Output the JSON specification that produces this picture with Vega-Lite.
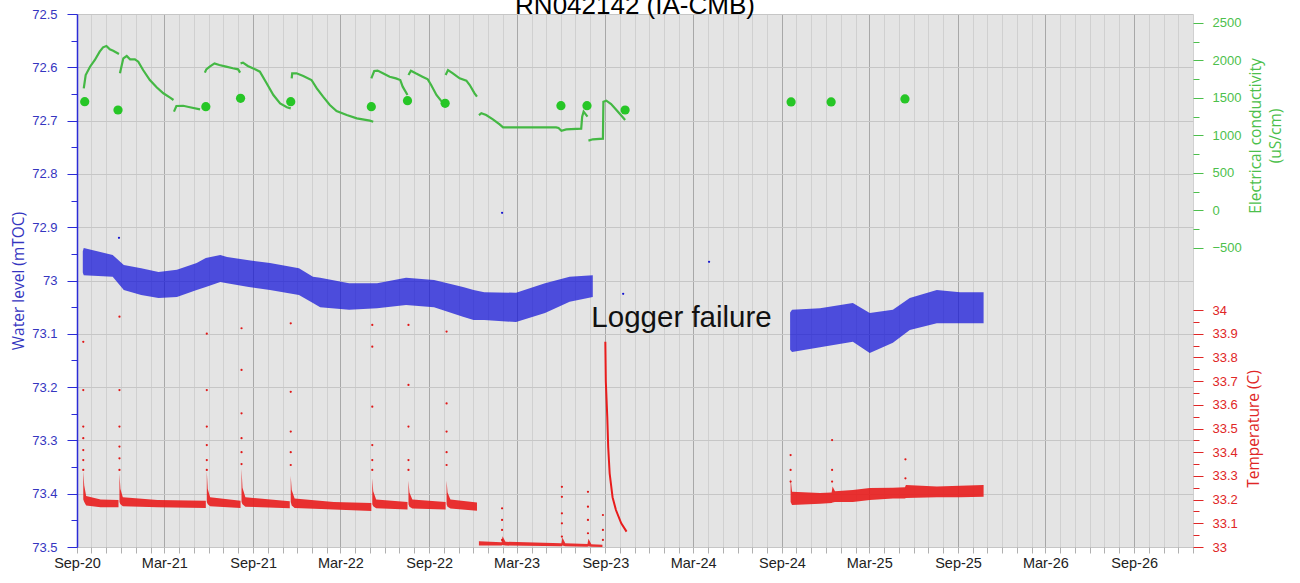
{
  "$schema": "https://vega.github.io/schema/vega-lite/v6.json",
  "width": 1116,
  "height": 533,
  "autosize": {"type": "none"},
  "padding": {"left": 77, "top": 14, "right": 107, "bottom": 36},
  "background": "white",
  "title": {"text": "RN042142 (IA-CMB)", "font": "Liberation Sans", "fontSize": 26, "fontWeight": "normal", "color": "#000000", "anchor": "middle", "offset": -11},
  "config": {"view": {"fill": "#e4e4e4", "stroke": null}},
  "datasets": {
    "wl": [
      {"seg": 1, "d": "2020-09-13", "v": 72.945, "v2": 72.985},
      {"seg": 1, "d": "2020-09-15", "v": 72.939, "v2": 72.99},
      {"seg": 1, "d": "2020-11-14", "v": 72.952, "v2": 72.993},
      {"seg": 1, "d": "2020-12-07", "v": 72.971, "v2": 73.018},
      {"seg": 1, "d": "2021-01-12", "v": 72.977, "v2": 73.027},
      {"seg": 1, "d": "2021-02-17", "v": 72.984, "v2": 73.033},
      {"seg": 1, "d": "2021-03-27", "v": 72.98, "v2": 73.031},
      {"seg": 1, "d": "2021-05-07", "v": 72.967, "v2": 73.018},
      {"seg": 1, "d": "2021-05-26", "v": 72.958, "v2": 73.012},
      {"seg": 1, "d": "2021-06-25", "v": 72.952, "v2": 73.003},
      {"seg": 1, "d": "2021-07-09", "v": 72.956, "v2": 73.005},
      {"seg": 1, "d": "2021-08-23", "v": 72.962, "v2": 73.012},
      {"seg": 1, "d": "2021-10-06", "v": 72.967, "v2": 73.018},
      {"seg": 1, "d": "2021-12-05", "v": 72.977, "v2": 73.027},
      {"seg": 1, "d": "2022-01-03", "v": 72.993, "v2": 73.042},
      {"seg": 1, "d": "2022-01-18", "v": 72.995, "v2": 73.05},
      {"seg": 1, "d": "2022-03-19", "v": 73.005, "v2": 73.055},
      {"seg": 1, "d": "2022-05-16", "v": 73.005, "v2": 73.052},
      {"seg": 1, "d": "2022-07-15", "v": 72.995, "v2": 73.046},
      {"seg": 1, "d": "2022-09-11", "v": 72.999, "v2": 73.05},
      {"seg": 1, "d": "2022-11-10", "v": 73.012, "v2": 73.068},
      {"seg": 1, "d": "2022-12-02", "v": 73.018, "v2": 73.074},
      {"seg": 1, "d": "2022-12-24", "v": 73.022, "v2": 73.074},
      {"seg": 1, "d": "2023-02-28", "v": 73.023, "v2": 73.078},
      {"seg": 1, "d": "2023-04-29", "v": 73.005, "v2": 73.061},
      {"seg": 1, "d": "2023-06-19", "v": 72.993, "v2": 73.04},
      {"seg": 1, "d": "2023-08-06", "v": 72.99, "v2": 73.031},
      {"seg": 2, "d": "2024-09-18", "v": 73.06, "v2": 73.13},
      {"seg": 2, "d": "2024-09-22", "v": 73.055, "v2": 73.134},
      {"seg": 2, "d": "2024-11-19", "v": 73.052, "v2": 73.125},
      {"seg": 2, "d": "2025-01-26", "v": 73.042, "v2": 73.115},
      {"seg": 2, "d": "2025-03-02", "v": 73.061, "v2": 73.136},
      {"seg": 2, "d": "2025-04-19", "v": 73.055, "v2": 73.117},
      {"seg": 2, "d": "2025-05-24", "v": 73.033, "v2": 73.093},
      {"seg": 2, "d": "2025-07-19", "v": 73.018, "v2": 73.08},
      {"seg": 2, "d": "2025-09-05", "v": 73.022, "v2": 73.08},
      {"seg": 2, "d": "2025-10-24", "v": 73.022, "v2": 73.08}
    ],
    "wlpts": [
      {"d": "2020-11-27", "v": 72.92},
      {"d": "2023-01-30", "v": 72.873},
      {"d": "2023-10-08", "v": 73.025},
      {"d": "2024-04-03", "v": 72.965}
    ],
    "tb": [
      {"seg": 1, "d": "2020-09-14", "v": 33.2, "v2": 33.32},
      {"seg": 1, "d": "2020-09-16", "v": 33.19, "v2": 33.26},
      {"seg": 1, "d": "2020-09-20", "v": 33.175, "v2": 33.215},
      {"seg": 1, "d": "2020-10-20", "v": 33.168, "v2": 33.2},
      {"seg": 1, "d": "2020-11-26", "v": 33.168, "v2": 33.198},
      {"seg": 2, "d": "2020-11-28", "v": 33.19, "v2": 33.31},
      {"seg": 2, "d": "2020-11-30", "v": 33.18, "v2": 33.245},
      {"seg": 2, "d": "2020-12-05", "v": 33.172, "v2": 33.21},
      {"seg": 2, "d": "2021-02-15", "v": 33.168, "v2": 33.198},
      {"seg": 2, "d": "2021-05-26", "v": 33.165, "v2": 33.195},
      {"seg": 3, "d": "2021-05-28", "v": 33.19, "v2": 33.32},
      {"seg": 3, "d": "2021-05-30", "v": 33.18, "v2": 33.245},
      {"seg": 3, "d": "2021-06-04", "v": 33.172, "v2": 33.21},
      {"seg": 3, "d": "2021-08-06", "v": 33.165, "v2": 33.195},
      {"seg": 4, "d": "2021-08-08", "v": 33.19, "v2": 33.33},
      {"seg": 4, "d": "2021-08-10", "v": 33.18, "v2": 33.25},
      {"seg": 4, "d": "2021-08-16", "v": 33.17, "v2": 33.21},
      {"seg": 4, "d": "2021-11-16", "v": 33.163, "v2": 33.193},
      {"seg": 5, "d": "2021-11-18", "v": 33.19, "v2": 33.3},
      {"seg": 5, "d": "2021-11-20", "v": 33.175, "v2": 33.24},
      {"seg": 5, "d": "2021-11-26", "v": 33.165, "v2": 33.205},
      {"seg": 5, "d": "2022-02-15", "v": 33.158, "v2": 33.19},
      {"seg": 5, "d": "2022-05-04", "v": 33.152, "v2": 33.186},
      {"seg": 6, "d": "2022-05-06", "v": 33.18, "v2": 33.29},
      {"seg": 6, "d": "2022-05-08", "v": 33.172, "v2": 33.235},
      {"seg": 6, "d": "2022-05-14", "v": 33.163, "v2": 33.2},
      {"seg": 6, "d": "2022-07-18", "v": 33.158, "v2": 33.19},
      {"seg": 7, "d": "2022-07-20", "v": 33.18, "v2": 33.28},
      {"seg": 7, "d": "2022-07-22", "v": 33.17, "v2": 33.23},
      {"seg": 7, "d": "2022-07-28", "v": 33.162, "v2": 33.2},
      {"seg": 7, "d": "2022-10-05", "v": 33.158, "v2": 33.19},
      {"seg": 8, "d": "2022-10-07", "v": 33.18, "v2": 33.28},
      {"seg": 8, "d": "2022-10-09", "v": 33.17, "v2": 33.23},
      {"seg": 8, "d": "2022-10-15", "v": 33.162, "v2": 33.2},
      {"seg": 8, "d": "2022-12-09", "v": 33.153, "v2": 33.188},
      {"seg": 9, "d": "2022-12-13", "v": 33.006, "v2": 33.024},
      {"seg": 9, "d": "2023-01-29", "v": 33.006, "v2": 33.02},
      {"seg": 9, "d": "2023-01-31", "v": 33.008, "v2": 33.045},
      {"seg": 9, "d": "2023-02-06", "v": 33.006, "v2": 33.022},
      {"seg": 9, "d": "2023-06-02", "v": 33.003, "v2": 33.016},
      {"seg": 9, "d": "2023-06-04", "v": 33.006, "v2": 33.04},
      {"seg": 9, "d": "2023-06-10", "v": 33.003, "v2": 33.016},
      {"seg": 9, "d": "2023-07-26", "v": 33.001, "v2": 33.013},
      {"seg": 9, "d": "2023-07-28", "v": 33.003, "v2": 33.035},
      {"seg": 9, "d": "2023-08-03", "v": 33.001, "v2": 33.012},
      {"seg": 9, "d": "2023-08-26", "v": 33.0, "v2": 33.01},
      {"seg": 10, "d": "2024-09-19", "v": 33.19, "v2": 33.29},
      {"seg": 10, "d": "2024-09-22", "v": 33.177, "v2": 33.233},
      {"seg": 10, "d": "2024-11-19", "v": 33.182, "v2": 33.228},
      {"seg": 10, "d": "2024-12-13", "v": 33.186, "v2": 33.23},
      {"seg": 10, "d": "2024-12-15", "v": 33.188, "v2": 33.255},
      {"seg": 10, "d": "2024-12-20", "v": 33.19, "v2": 33.235},
      {"seg": 10, "d": "2025-01-26", "v": 33.19, "v2": 33.24},
      {"seg": 10, "d": "2025-03-02", "v": 33.198, "v2": 33.249},
      {"seg": 10, "d": "2025-04-19", "v": 33.205, "v2": 33.25},
      {"seg": 10, "d": "2025-05-14", "v": 33.205, "v2": 33.252},
      {"seg": 10, "d": "2025-05-16", "v": 33.207, "v2": 33.262},
      {"seg": 10, "d": "2025-07-19", "v": 33.21, "v2": 33.255},
      {"seg": 10, "d": "2025-09-05", "v": 33.21, "v2": 33.258},
      {"seg": 10, "d": "2025-10-24", "v": 33.212, "v2": 33.262}
    ],
    "tc": [
      {"d": "2023-09-01", "v": 33.866},
      {"d": "2023-09-02", "v": 33.7},
      {"d": "2023-09-05", "v": 33.55},
      {"d": "2023-09-07", "v": 33.42},
      {"d": "2023-09-10", "v": 33.31},
      {"d": "2023-09-16", "v": 33.21},
      {"d": "2023-09-23", "v": 33.156},
      {"d": "2023-10-04", "v": 33.1},
      {"d": "2023-10-15", "v": 33.065}
    ],
    "tp": [
      {"d": "2020-09-14", "v": 33.866}, {"d": "2020-09-14", "v": 33.662}, {"d": "2020-09-14", "v": 33.508}, {"d": "2020-09-14", "v": 33.459}, {"d": "2020-09-14", "v": 33.409}, {"d": "2020-09-14", "v": 33.367}, {"d": "2020-09-14", "v": 33.325},
      {"d": "2020-11-28", "v": 33.972}, {"d": "2020-11-28", "v": 33.662}, {"d": "2020-11-28", "v": 33.508}, {"d": "2020-11-28", "v": 33.424}, {"d": "2020-11-28", "v": 33.374}, {"d": "2020-11-28", "v": 33.325},
      {"d": "2021-05-28", "v": 33.9}, {"d": "2021-05-28", "v": 33.662}, {"d": "2021-05-28", "v": 33.508}, {"d": "2021-05-28", "v": 33.43}, {"d": "2021-05-28", "v": 33.367}, {"d": "2021-05-28", "v": 33.325},
      {"d": "2021-08-08", "v": 33.923}, {"d": "2021-08-08", "v": 33.747}, {"d": "2021-08-08", "v": 33.564}, {"d": "2021-08-08", "v": 33.459}, {"d": "2021-08-08", "v": 33.4}, {"d": "2021-08-08", "v": 33.35},
      {"d": "2021-11-18", "v": 33.944}, {"d": "2021-11-18", "v": 33.655}, {"d": "2021-11-18", "v": 33.487}, {"d": "2021-11-18", "v": 33.4}, {"d": "2021-11-18", "v": 33.346},
      {"d": "2022-05-06", "v": 33.937}, {"d": "2022-05-06", "v": 33.845}, {"d": "2022-05-06", "v": 33.592}, {"d": "2022-05-06", "v": 33.43}, {"d": "2022-05-06", "v": 33.367}, {"d": "2022-05-06", "v": 33.325},
      {"d": "2022-07-20", "v": 33.937}, {"d": "2022-07-20", "v": 33.684}, {"d": "2022-07-20", "v": 33.508}, {"d": "2022-07-20", "v": 33.367}, {"d": "2022-07-20", "v": 33.325},
      {"d": "2022-10-07", "v": 33.909}, {"d": "2022-10-07", "v": 33.606}, {"d": "2022-10-07", "v": 33.487}, {"d": "2022-10-07", "v": 33.4}, {"d": "2022-10-07", "v": 33.346},
      {"d": "2023-01-30", "v": 33.163}, {"d": "2023-01-30", "v": 33.114}, {"d": "2023-01-30", "v": 33.072}, {"d": "2023-01-30", "v": 33.03},
      {"d": "2023-06-03", "v": 33.254}, {"d": "2023-06-03", "v": 33.212}, {"d": "2023-06-03", "v": 33.142}, {"d": "2023-06-03", "v": 33.1}, {"d": "2023-06-03", "v": 33.044},
      {"d": "2023-07-27", "v": 33.233}, {"d": "2023-07-27", "v": 33.17}, {"d": "2023-07-27", "v": 33.114}, {"d": "2023-07-27", "v": 33.058},
      {"d": "2023-08-27", "v": 33.135}, {"d": "2023-08-27", "v": 33.072}, {"d": "2023-08-27", "v": 33.03},
      {"d": "2024-09-19", "v": 33.388}, {"d": "2024-09-19", "v": 33.325}, {"d": "2024-09-19", "v": 33.276},
      {"d": "2024-12-14", "v": 33.451}, {"d": "2024-12-14", "v": 33.325}, {"d": "2024-12-14", "v": 33.276},
      {"d": "2025-05-15", "v": 33.37}, {"d": "2025-05-15", "v": 33.29}
    ],
    "ecl": [
      {"s": "A", "d": "2020-09-15", "v": 1629}, {"s": "A", "d": "2020-09-19", "v": 1807}, {"s": "A", "d": "2020-09-28", "v": 1917}, {"s": "A", "d": "2020-10-08", "v": 2007}, {"s": "A", "d": "2020-10-18", "v": 2118}, {"s": "A", "d": "2020-10-25", "v": 2176}, {"s": "A", "d": "2020-11-01", "v": 2193}, {"s": "A", "d": "2020-11-08", "v": 2149}, {"s": "A", "d": "2020-11-15", "v": 2131}, {"s": "A", "d": "2020-11-27", "v": 2087},
      {"s": "B", "d": "2020-11-29", "v": 1829}, {"s": "B", "d": "2020-12-06", "v": 2029}, {"s": "B", "d": "2020-12-13", "v": 2060}, {"s": "B", "d": "2020-12-20", "v": 2016}, {"s": "B", "d": "2020-12-30", "v": 2016}, {"s": "B", "d": "2021-01-06", "v": 1984}, {"s": "B", "d": "2021-01-16", "v": 1873}, {"s": "B", "d": "2021-01-30", "v": 1740}, {"s": "B", "d": "2021-02-13", "v": 1643}, {"s": "B", "d": "2021-02-27", "v": 1563}, {"s": "B", "d": "2021-03-13", "v": 1504}, {"s": "B", "d": "2021-03-20", "v": 1473},
      {"s": "C", "d": "2021-03-21", "v": 1318}, {"s": "C", "d": "2021-03-26", "v": 1393}, {"s": "C", "d": "2021-04-09", "v": 1396}, {"s": "C", "d": "2021-04-23", "v": 1376}, {"s": "C", "d": "2021-05-14", "v": 1349},
      {"s": "D", "d": "2021-05-24", "v": 1838}, {"s": "D", "d": "2021-05-27", "v": 1882}, {"s": "D", "d": "2021-06-03", "v": 1918}, {"s": "D", "d": "2021-06-13", "v": 1962}, {"s": "D", "d": "2021-06-23", "v": 1940}, {"s": "D", "d": "2021-07-07", "v": 1918}, {"s": "D", "d": "2021-07-21", "v": 1896}, {"s": "D", "d": "2021-08-01", "v": 1882}, {"s": "D", "d": "2021-08-05", "v": 1838},
      {"s": "E", "d": "2021-08-06", "v": 1962}, {"s": "E", "d": "2021-08-11", "v": 1971}, {"s": "E", "d": "2021-08-21", "v": 1927}, {"s": "E", "d": "2021-09-05", "v": 1882}, {"s": "E", "d": "2021-09-15", "v": 1851}, {"s": "E", "d": "2021-09-29", "v": 1696}, {"s": "E", "d": "2021-10-13", "v": 1540}, {"s": "E", "d": "2021-10-27", "v": 1429}, {"s": "E", "d": "2021-11-10", "v": 1376}, {"s": "E", "d": "2021-11-18", "v": 1362},
      {"s": "F", "d": "2021-11-20", "v": 1762}, {"s": "F", "d": "2021-11-21", "v": 1829}, {"s": "F", "d": "2021-11-30", "v": 1829}, {"s": "F", "d": "2021-12-14", "v": 1793}, {"s": "F", "d": "2021-12-31", "v": 1740}, {"s": "F", "d": "2022-01-11", "v": 1629}, {"s": "F", "d": "2022-01-24", "v": 1518}, {"s": "F", "d": "2022-02-07", "v": 1407}, {"s": "F", "d": "2022-02-21", "v": 1327}, {"s": "F", "d": "2022-03-14", "v": 1273}, {"s": "F", "d": "2022-04-04", "v": 1229}, {"s": "F", "d": "2022-05-01", "v": 1198}, {"s": "F", "d": "2022-05-08", "v": 1184},
      {"s": "G", "d": "2022-05-04", "v": 1762}, {"s": "G", "d": "2022-05-10", "v": 1860}, {"s": "G", "d": "2022-05-17", "v": 1865}, {"s": "G", "d": "2022-05-28", "v": 1829}, {"s": "G", "d": "2022-06-11", "v": 1784}, {"s": "G", "d": "2022-06-24", "v": 1762}, {"s": "G", "d": "2022-07-03", "v": 1740}, {"s": "G", "d": "2022-07-08", "v": 1651}, {"s": "G", "d": "2022-07-18", "v": 1540},
      {"s": "H", "d": "2022-07-20", "v": 1807}, {"s": "H", "d": "2022-07-25", "v": 1864}, {"s": "H", "d": "2022-08-04", "v": 1829}, {"s": "H", "d": "2022-08-18", "v": 1784}, {"s": "H", "d": "2022-08-29", "v": 1749}, {"s": "H", "d": "2022-09-05", "v": 1673}, {"s": "H", "d": "2022-09-16", "v": 1540}, {"s": "H", "d": "2022-09-27", "v": 1451},
      {"s": "I", "d": "2022-10-05", "v": 1807}, {"s": "I", "d": "2022-10-10", "v": 1873}, {"s": "I", "d": "2022-10-20", "v": 1829}, {"s": "I", "d": "2022-11-03", "v": 1762}, {"s": "I", "d": "2022-11-17", "v": 1731}, {"s": "I", "d": "2022-11-24", "v": 1673}, {"s": "I", "d": "2022-12-04", "v": 1562}, {"s": "I", "d": "2022-12-09", "v": 1518},
      {"s": "J", "d": "2022-12-13", "v": 1273}, {"s": "J", "d": "2022-12-18", "v": 1296}, {"s": "J", "d": "2022-12-28", "v": 1273}, {"s": "J", "d": "2023-01-11", "v": 1216}, {"s": "J", "d": "2023-01-25", "v": 1149}, {"s": "J", "d": "2023-02-01", "v": 1109}, {"s": "J", "d": "2023-04-04", "v": 1109}, {"s": "J", "d": "2023-05-22", "v": 1109}, {"s": "J", "d": "2023-05-27", "v": 1100}, {"s": "J", "d": "2023-06-02", "v": 1064}, {"s": "J", "d": "2023-06-12", "v": 1082}, {"s": "J", "d": "2023-07-13", "v": 1091}, {"s": "J", "d": "2023-07-15", "v": 1251}, {"s": "J", "d": "2023-07-18", "v": 1318}, {"s": "J", "d": "2023-07-26", "v": 1251},
      {"s": "L", "d": "2023-07-28", "v": 931}, {"s": "L", "d": "2023-08-06", "v": 949}, {"s": "L", "d": "2023-08-27", "v": 958}, {"s": "L", "d": "2023-08-28", "v": 1451}, {"s": "L", "d": "2023-09-03", "v": 1464}, {"s": "L", "d": "2023-09-13", "v": 1420}, {"s": "L", "d": "2023-09-24", "v": 1340}, {"s": "L", "d": "2023-10-05", "v": 1260}, {"s": "L", "d": "2023-10-12", "v": 1207}
    ],
    "ecd": [
      {"d": "2020-09-17", "v": 1451}, {"d": "2020-11-25", "v": 1340}, {"d": "2021-05-26", "v": 1384}, {"d": "2021-08-06", "v": 1496}, {"d": "2021-11-18", "v": 1451}, {"d": "2022-05-04", "v": 1384}, {"d": "2022-07-18", "v": 1464}, {"d": "2022-10-04", "v": 1429}, {"d": "2023-06-01", "v": 1398}, {"d": "2023-07-25", "v": 1398}, {"d": "2023-10-12", "v": 1340}, {"d": "2024-09-20", "v": 1447}, {"d": "2024-12-12", "v": 1447}, {"d": "2025-05-14", "v": 1487}
    ]
  },
  "layer": [
    {
      "encoding": {
        "x": {"field": "d", "type": "temporal",
          "scale": {"domain": [{"year": 2020, "month": 9, "date": 1}, {"year": 2027, "month": 1, "date": 1}]},
          "axis": {"title": null, "tickCount": {"interval": "month", "step": 1}, "labelExpr": "month(datum.value) % 6 === 2 ? timeFormat(datum.value, '%b-%y') : ''", "labelOverlap": false, "labelFlush": false, "labelFont": "Liberation Sans", "labelFontSize": 14.5, "labelColor": "#222222", "labelPadding": 3, "tickSize": 6, "tickColor": "#b0b0b0", "domain": false, "grid": true, "gridColor": {"condition": {"test": "month(datum.value) % 6 === 2", "value": "#a8a8a8"}, "value": "#d0d0d0"}, "gridWidth": 1}},
        "y": {"field": "v", "type": "quantitative",
          "scale": {"domain": [72.5, 73.5], "reverse": true, "nice": false, "zero": false},
          "axis": {"title": "Water level (mTOC)", "orient": "left", "values": [72.5, 72.55, 72.6, 72.65, 72.7, 72.75, 72.8, 72.85, 72.9, 72.95, 73.0, 73.05, 73.1, 73.15, 73.2, 73.25, 73.3, 73.35, 73.4, 73.45, 73.5],
            "labelExpr": "round(datum.value*20) % 2 === 0 ? format(datum.value, '.1~f') : ''",
            "labelFont": "Liberation Sans", "labelFontSize": 13, "labelColor": "#3535c0", "labelPadding": 10,
            "tickSize": {"condition": {"test": "round(datum.value*20) % 2 === 0", "value": 10}, "value": 6},
            "tickColor": "#2b2bd6", "domainColor": "#2b2bd6", "domainWidth": 1.5,
            "grid": true, "gridColor": "#c6c6c6", "gridOpacity": {"condition": {"test": "round(datum.value*20) % 2 === 0", "value": 1}, "value": 0},
            "titleFont": "Open Sans", "titleFontSize": 15.5, "titleFontWeight": "normal", "titleColor": "#3535c0", "titleAngle": 270, "titleX": -59, "titleY": 266.5, "titleBaseline": "middle", "titleAlign": "center"}}
      },
      "layer": [
        {"data": {"name": "wl"}, "mark": {"type": "area", "color": "#1010d8", "opacity": 0.72}, "encoding": {"y2": {"field": "v2"}, "detail": {"field": "seg"}}},
        {"data": {"name": "wlpts"}, "mark": {"type": "circle", "size": 5, "color": "#1515d0", "opacity": 1}},
        {"data": {"values": [{"d": "2024-02-06", "v": 73.07, "label": "Logger failure"}]}, "mark": {"type": "text", "font": "Liberation Sans", "fontSize": 29.5, "color": "#111111", "align": "center", "baseline": "middle"}, "encoding": {"text": {"field": "label"}}}
      ]
    },
    {
      "encoding": {
        "x": {"field": "d", "type": "temporal",
          "scale": {"domain": [{"year": 2020, "month": 9, "date": 1}, {"year": 2027, "month": 1, "date": 1}]},
          "axis": {"title": null, "tickCount": {"interval": "month", "step": 1}, "labelExpr": "month(datum.value) % 6 === 2 ? timeFormat(datum.value, '%b-%y') : ''", "labelOverlap": false, "labelFlush": false, "labelFont": "Liberation Sans", "labelFontSize": 14.5, "labelColor": "#222222", "labelPadding": 3, "tickSize": 6, "tickColor": "#b0b0b0", "domain": false, "grid": true, "gridColor": {"condition": {"test": "month(datum.value) % 6 === 2", "value": "#a8a8a8"}, "value": "#d0d0d0"}, "gridWidth": 1}},
        "y": {"field": "v", "type": "quantitative",
          "scale": {"domain": [-4486.7, 2620], "nice": false, "zero": false},
          "axis": {"title": ["Electrical conductivity", "(uS/cm)"], "orient": "right", "values": [-500, -250, 0, 250, 500, 750, 1000, 1250, 1500, 1750, 2000, 2250, 2500],
            "labelExpr": "datum.value % 500 === 0 ? format(datum.value, 'd') : ''",
            "labelFont": "Liberation Sans", "labelFontSize": 13, "labelColor": "#4cbf4c", "labelPadding": 9,
            "tickSize": {"condition": {"test": "datum.value % 500 === 0", "value": 10}, "value": 6},
            "tickColor": "#4cbf4c", "domain": false, "grid": false,
            "titleFont": "Open Sans", "titleFontSize": 15.5, "titleFontWeight": "normal", "titleColor": "#4cbf4c", "titleAngle": 270, "titleX": 62, "titleY": 121.5, "titleBaseline": "middle", "titleAlign": "center", "titleLineHeight": 20}}
      },
      "layer": [
        {"data": {"name": "ecl"}, "mark": {"type": "line", "color": "#44b844", "strokeWidth": 2.2}, "encoding": {"detail": {"field": "s"}}},
        {"data": {"name": "ecd"}, "mark": {"type": "circle", "size": 85, "color": "#26c626", "opacity": 1}},
        {"data": {"values": [{}]}, "mark": {"type": "rule", "color": "#4cbf4c", "strokeWidth": 1.5}, "encoding": {"x": {"datum": {"year": 2027, "month": 1, "date": 1}, "type": "temporal"}, "y": {"datum": -500}, "y2": {"datum": 2500}}}
      ]
    },
    {
      "encoding": {
        "x": {"field": "d", "type": "temporal",
          "scale": {"domain": [{"year": 2020, "month": 9, "date": 1}, {"year": 2027, "month": 1, "date": 1}]},
          "axis": {"title": null, "tickCount": {"interval": "month", "step": 1}, "labelExpr": "month(datum.value) % 6 === 2 ? timeFormat(datum.value, '%b-%y') : ''", "labelOverlap": false, "labelFlush": false, "labelFont": "Liberation Sans", "labelFontSize": 14.5, "labelColor": "#222222", "labelPadding": 3, "tickSize": 6, "tickColor": "#b0b0b0", "domain": false, "grid": true, "gridColor": {"condition": {"test": "month(datum.value) % 6 === 2", "value": "#a8a8a8"}, "value": "#d0d0d0"}, "gridWidth": 1}},
        "y": {"field": "v", "type": "quantitative",
          "scale": {"domain": [33, 35.249], "nice": false, "zero": false},
          "axis": {"title": "Temperature (C)", "orient": "right", "values": [33.0, 33.05, 33.1, 33.15, 33.2, 33.25, 33.3, 33.35, 33.4, 33.45, 33.5, 33.55, 33.6, 33.65, 33.7, 33.75, 33.8, 33.85, 33.9, 33.95, 34.0],
            "labelExpr": "round(datum.value*20) % 2 === 0 ? format(datum.value, '.1~f') : ''",
            "labelFont": "Liberation Sans", "labelFontSize": 13, "labelColor": "#e02626", "labelPadding": 9,
            "tickSize": {"condition": {"test": "round(datum.value*20) % 2 === 0", "value": 10}, "value": 6},
            "tickColor": "#e02626", "domain": false, "grid": false,
            "titleFont": "Open Sans", "titleFontSize": 15.5, "titleFontWeight": "normal", "titleColor": "#e02626", "titleAngle": 270, "titleX": 60, "titleY": 414.5, "titleBaseline": "middle", "titleAlign": "center"}}
      },
      "layer": [
        {"data": {"name": "tb"}, "mark": {"type": "area", "color": "#e81c1c", "opacity": 0.9}, "encoding": {"y2": {"field": "v2"}, "detail": {"field": "seg"}}},
        {"data": {"name": "tc"}, "mark": {"type": "line", "color": "#e81c1c", "strokeWidth": 2}},
        {"data": {"name": "tp"}, "mark": {"type": "circle", "size": 5, "color": "#e01818", "opacity": 1}},
        {"data": {"values": [{}]}, "mark": {"type": "rule", "color": "#e02626", "strokeWidth": 1.5}, "encoding": {"x": {"datum": {"year": 2027, "month": 1, "date": 1}, "type": "temporal"}, "y": {"datum": 33}, "y2": {"datum": 34}}}
      ]
    }
  ],
  "resolve": {"scale": {"y": "independent"}}
}
